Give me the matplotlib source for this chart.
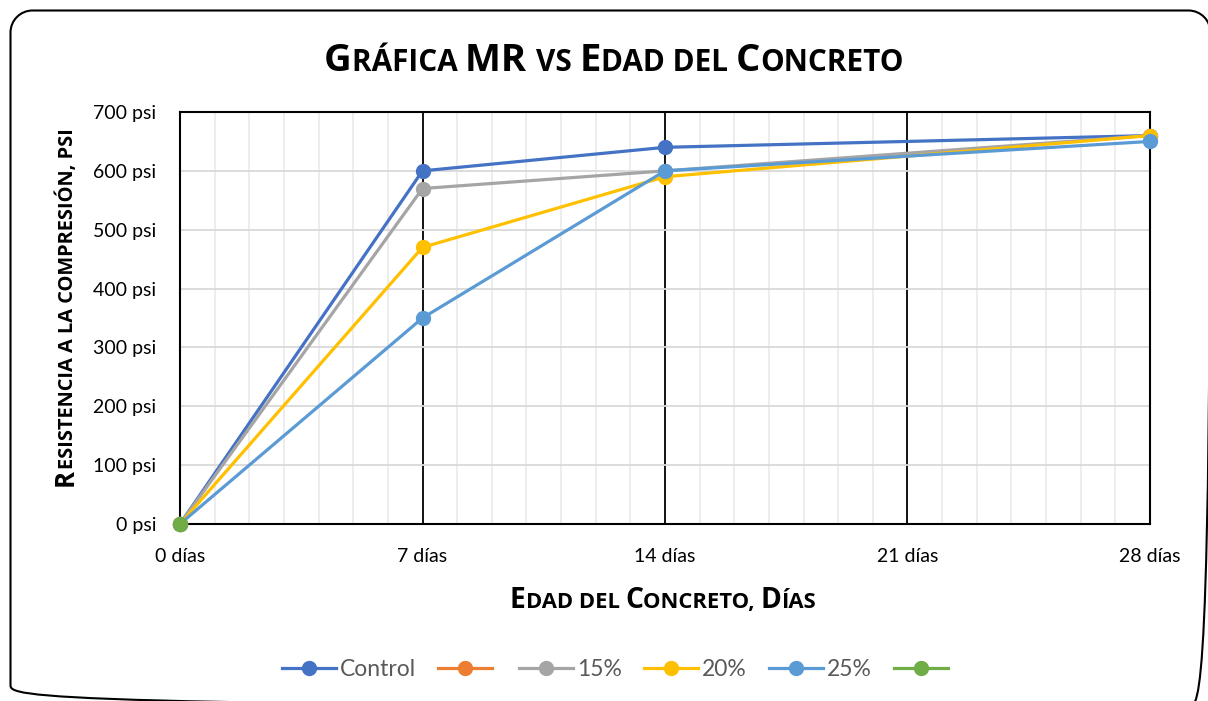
import matplotlib
matplotlib.use("Agg")
import matplotlib.pyplot as plt
from matplotlib.patches import PathPatch
from matplotlib.path import Path
from matplotlib.ticker import MultipleLocator, FuncFormatter

plt.rcParams["savefig.bbox"] = "standard"

# ---- data -------------------------------------------------------------
edad_dias = [0, 7, 14, 28]
series_names = ["Control", "", "15%", "20%", "25%", ""]
control = [0, 600, 640, 660]
serie_naranja = [0]
pct15 = [0, 570, 600, 660]
pct20 = [0, 470, 590, 660]
pct25 = [0, 350, 600, 650]
serie_verde = [0]
series_values = [control, serie_naranja, pct15, pct20, pct25, serie_verde]
colors = ["#4472C4", "#ED7D31", "#A5A5A5", "#FFC000", "#5B9BD5", "#70AD47"]
x_ticks = [0, 7, 14, 21, 28]
y_ticks = list(range(0, 701, 100))

W, H, DPI = 1208, 701, 100
fig = plt.figure(figsize=(W / DPI, H / DPI), dpi=DPI)
fig.patch.set_facecolor("white")

TICK_FONT = "Lato"
TITLE_FONT = "Open Sans"


def rounded_rect(x0, y0, x1, y1, r):
    k = 0.5523 * r
    verts = [(x0 + r, y0), (x1 - r, y0),
             (x1 - r + k, y0), (x1, y0 + r - k), (x1, y0 + r),
             (x1, y1 - r),
             (x1, y1 - r + k), (x1 - r + k, y1), (x1 - r, y1),
             (x0 + r, y1),
             (x0 + r - k, y1), (x0, y1 - r + k), (x0, y1 - r),
             (x0, y0 + r),
             (x0, y0 + r - k), (x0 + r - k, y0), (x0 + r, y0)]
    codes = [Path.MOVETO, Path.LINETO,
             Path.CURVE4, Path.CURVE4, Path.CURVE4,
             Path.LINETO,
             Path.CURVE4, Path.CURVE4, Path.CURVE4,
             Path.LINETO,
             Path.CURVE4, Path.CURVE4, Path.CURVE4,
             Path.LINETO,
             Path.CURVE4, Path.CURVE4, Path.CURVE4]
    return Path(verts, codes)


# background layer in pixel units (y grows downward) holding the chart border
bg = fig.add_axes([0, 0, 1, 1], zorder=-1)
bg.set_xlim(0, W)
bg.set_ylim(H, 0)
bg.axis("off")
bg.add_patch(PathPatch(rounded_rect(10.5, 10.5, 1210.5, 707, 22), fill=False,
                       edgecolor="black", linewidth=1.5, clip_on=True))

ax = fig.add_axes([180 / W, (H - 524) / H, 970 / W, 412 / H])
ax.set_xlim(0, 28)
ax.set_ylim(0, 700)

# grid
ax.xaxis.set_minor_locator(MultipleLocator(1))
ax.set_xticks(x_ticks)
ax.set_yticks(y_ticks)
ax.grid(which="minor", axis="x", color="#ececec", linewidth=1.3, zorder=0)
ax.grid(which="major", axis="y", color="#d9d9d9", linewidth=1.3, zorder=0)
for xv in x_ticks[1:-1]:
    ax.axvline(xv, color="black", linewidth=1.3, zorder=1)
for sp in ax.spines.values():
    sp.set_color("black")
    sp.set_linewidth(1.5)

ax.tick_params(which="both", length=0)
ax.tick_params(axis="y", pad=17)
ax.tick_params(axis="x", pad=17.5)
ax.xaxis.set_major_formatter(FuncFormatter(lambda v, p: f"{int(v)} días"))
ax.yaxis.set_major_formatter(FuncFormatter(lambda v, p: f"{int(v)} psi"))
for lab in ax.get_xticklabels() + ax.get_yticklabels():
    lab.set_fontfamily(TICK_FONT)
    lab.set_fontsize(14)
    lab.set_color("black")

handles = []
for name, vals, c in zip(series_names, series_values, colors):
    h, = ax.plot(edad_dias[:len(vals)], vals, color=c, linewidth=2.3,
                 marker="o", markersize=10, markeredgecolor=c, zorder=3,
                 label=name, clip_on=False)
    handles.append(h)

leg = fig.legend(handles, series_names, loc="center", bbox_to_anchor=(617 / W, 1 - 670 / H),
                 ncol=6, frameon=False, prop={"family": TICK_FONT, "size": 16.5},
                 handlelength=2.36, handletextpad=0.18, columnspacing=0.96, borderpad=0)
for t in leg.get_texts():
    t.set_color("#595959")

# ---- small-caps text ----------------------------------------------------
renderer = fig.canvas.get_renderer()


def _advance(txt, size, weight, family):
    a = fig.text(0, 0, "|" + txt + "|", fontsize=size, fontweight=weight, family=family)
    b = fig.text(0, 0, "||", fontsize=size, fontweight=weight, family=family)
    w = a.get_window_extent(renderer).width - b.get_window_extent(renderer).width
    a.remove()
    b.remove()
    return w


def small_caps(text, cx, cy, size, rotation=0, weight="bold", family=TITLE_FONT, ratio=0.78):
    runs = []
    for ch in text:
        if ch.isalpha():
            small = ch.islower()
        elif runs:
            small = runs[-1][1]
        else:
            small = False
        up = ch.upper()
        if runs and runs[-1][1] == small:
            runs[-1][0] += up
        else:
            runs.append([up, small])
    widths = [_advance(s, size * ratio if small else size, weight, family)
              for s, small in runs]
    total = sum(widths)
    pos = -total / 2
    for (s, small), w in zip(runs, widths):
        fs = size * ratio if small else size
        if rotation == 0:
            x, y = cx + pos, cy
        else:
            x, y = cx, cy + pos
        fig.text(x / W, y / H, s, fontsize=fs, fontweight=weight, family=family,
                 rotation=rotation, rotation_mode="anchor", ha="left", va="baseline",
                 color="black")
        pos += w


small_caps("Gráfica MR vs Edad del Concreto", 614, H - 71, 27.5)
small_caps("Edad del Concreto, Días", 663, H - 608, 20.3)
small_caps("Resistencia a la compresión, psi", 73, H - 307, 18.5, rotation=90)

fig.savefig("out.png", dpi=DPI, facecolor="white")
